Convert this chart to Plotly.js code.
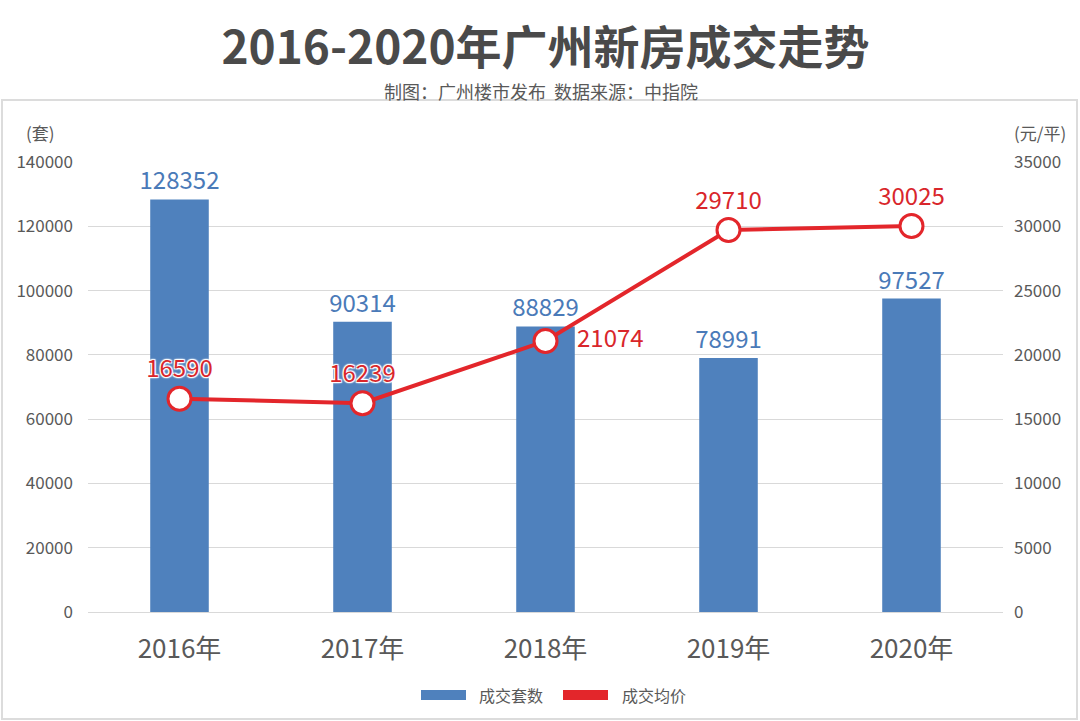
<!DOCTYPE html>
<html>
<head>
<meta charset="utf-8">
<script src="https://cdn.plot.ly/plotly-3.0.1.min.js"></script>
<style>html,body{margin:0;padding:0;background:#fff;}#chart{width:1080px;height:721px;}</style>
</head>
<body>
<div id="chart"></div>
<script>
const years = ["2016年", "2017年", "2018年", "2019年", "2020年"];
const units = [128352, 90314, 88829, 78991, 97527];
const prices = [16590, 16239, 21074, 29710, 30025];
const priceLabelPos = ["top center", "top center", "middle right", "top center", "top center"];
const priceLabelTpl = ["%{y:d}", "%{y:d}", "   %{y:d}", "%{y:d}", "%{y:d}"];
const seriesNames = ["成交套数", "成交均价"];
const seriesColors = ["#4f81bd", "#e3262b"];
const leftTicks = [0, 20000, 40000, 60000, 80000, 100000, 120000, 140000];
const rightTicks = [0, 5000, 10000, 15000, 20000, 25000, 30000, 35000];

const FONT = "Noto Sans CJK SC, Noto Sans, sans-serif";
const halo = "1px 1px 1px #fff, -1px -1px 1px #fff, 1px -1px 1px #fff, -1px 1px 1px #fff, 0 0 3px #fff";

const traces = [
  {
    type: "bar", name: seriesNames[0], x: years, y: units,
    marker: {color: seriesColors[0]}, width: 0.32,
    text: units.map(String), textposition: "outside", constraintext: "none", cliponaxis: false,
    textfont: {family: FONT, size: 24, color: "#4a7ab8"},
    hoverinfo: "skip", showlegend: false
  },
  {
    type: "scatter", name: seriesNames[1], x: years, y: prices, yaxis: "y2",
    mode: "lines+markers+text",
    line: {color: seriesColors[1], width: 4},
    marker: {size: 23, color: "#ffffff", line: {color: seriesColors[1], width: 3}},
    texttemplate: priceLabelTpl, textposition: priceLabelPos, cliponaxis: false,
    textfont: {family: FONT, size: 24, color: "#d9262b", weight: "normal", shadow: halo},
    hoverinfo: "skip", showlegend: false
  }
];

// pixel -> paper helpers (plot area: x 88..1003, y 162..612)
const L = 88, R = 1003, T = 162, B = 612;
const px = v => (v - L) / (R - L);
const py = v => (B - v) / (B - T);

const legendItems = [
  {name: seriesNames[0], color: seriesColors[0], sx: 421, tx: 477},
  {name: seriesNames[1], color: seriesColors[1], sx: 563, tx: 620}
];

const shapes = [
  {type: "rect", xref: "paper", yref: "paper", x0: px(2), x1: px(1077), y0: py(719), y1: py(100),
   line: {color: "#dcdcdc", width: 2}, fillcolor: "rgba(0,0,0,0)", layer: "below"}
];
const annotations = [
  {text: "制图：广州楼市发布  数据来源：中指院", xref: "paper", yref: "paper", x: px(541), y: py(91),
   xanchor: "center", yanchor: "middle", showarrow: false, font: {family: FONT, size: 18, color: "#595959"}},
  {text: "(套)", xref: "paper", yref: "paper", x: px(40), y: py(133), xanchor: "center", yanchor: "middle",
   showarrow: false, font: {family: FONT, size: 17, color: "#595959"}},
  {text: "(元/平)", xref: "paper", yref: "paper", x: px(1040), y: py(133), xanchor: "center", yanchor: "middle",
   showarrow: false, font: {family: FONT, size: 17, color: "#595959"}}
];
legendItems.forEach(it => {
  shapes.push({type: "rect", xref: "paper", yref: "paper", x0: px(it.sx), x1: px(it.sx + 45),
    y0: py(700), y1: py(690), fillcolor: it.color, line: {width: 0}});
  annotations.push({text: it.name, xref: "paper", yref: "paper", x: px(it.tx), y: py(695),
    xanchor: "left", yanchor: "middle", showarrow: false, font: {family: FONT, size: 16, color: "#595959"}});
});

const layout = {
  width: 1080, height: 721,
  margin: {l: L, r: 1080 - R, t: T, b: 721 - B, pad: 0},
  paper_bgcolor: "#ffffff", plot_bgcolor: "#ffffff",
  font: {family: FONT, color: "#595959"},
  title: {text: "<b>2016-2020年广州新房成交走势</b>", x: 0.5, xanchor: "center", xref: "paper",
          y: 1 - 48 / 721, yanchor: "middle", yref: "container",
          font: {family: FONT, size: 46, color: "#4a4a4a"}},
  showlegend: false,
  xaxis: {type: "category", showgrid: false, zeroline: false, showline: true, linecolor: "#d9d9d9", linewidth: 1,
          ticks: "", ticklabelstandoff: 14, tickfont: {family: FONT, size: 26, color: "#595959"}},
  yaxis: {range: [0, 140000], tickvals: leftTicks, ticktext: leftTicks.map(String), showgrid: true,
          gridcolor: "#d9d9d9", gridwidth: 1, zeroline: false, showline: false, ticks: "",
          ticklabelstandoff: 14, tickfont: {family: FONT, size: 17, color: "#595959"}, fixedrange: true},
  yaxis2: {range: [0, 35000], overlaying: "y", side: "right", tickvals: rightTicks, ticktext: rightTicks.map(String),
           showgrid: false, zeroline: false, showline: false, ticks: "", ticklabelstandoff: 10,
           tickfont: {family: FONT, size: 17, color: "#595959"}, fixedrange: true},
  shapes: shapes,
  annotations: annotations
};

Plotly.newPlot("chart", traces, layout, {displayModeBar: false, staticPlot: true});
</script>
</body>
</html>
